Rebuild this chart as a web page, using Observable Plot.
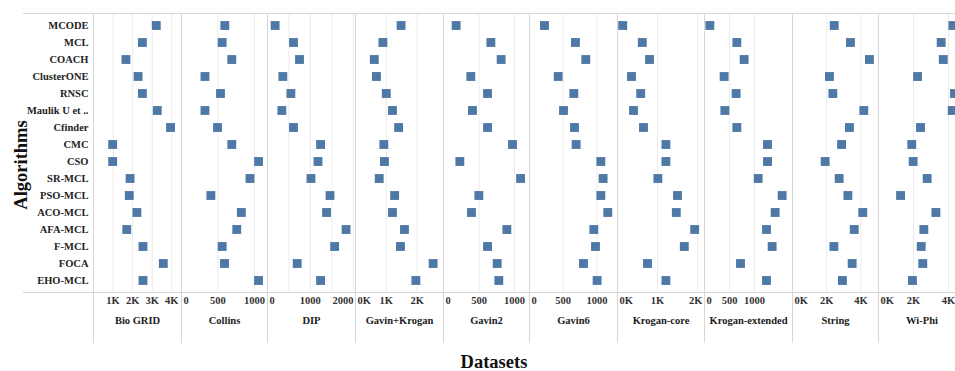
<!DOCTYPE html>
<html>
<head>
<meta charset="utf-8">
<script src="https://cdn.jsdelivr.net/npm/d3@7"></script>
<script src="https://cdn.jsdelivr.net/npm/@observablehq/plot@0.6"></script>
<style>
  body { margin: 0; background: #fff; }
  #chart { position: relative; width: 955px; height: 371px; overflow: hidden; background: #fff;
           font-family: "Liberation Serif", "Times New Roman", serif; font-weight: bold; color: #222; }
  .rule { position: absolute; background: #d6d6d6; }
  .title { position: absolute; font-size: 18.5px; white-space: nowrap; color: #111; }
</style>
</head>
<body>
<div id="chart"></div>
<script>
// Algorithms (rows, top to bottom)
const algorithms = ["MCODE", "MCL", "COACH", "ClusterONE", "RNSC", "Maulik U et ..", "Cfinder",
  "CMC", "CSO", "SR-MCL", "PSO-MCL", "ACO-MCL", "AFA-MCL", "F-MCL", "FOCA", "EHO-MCL"];

// Datasets (columns, left to right)
const datasets = ["Bio GRID", "Collins", "DIP", "Gavin+Krogan", "Gavin2", "Gavin6",
  "Krogan-core", "Krogan-extended", "String", "Wi-Phi"];

// Values per dataset, in the order of `algorithms`
const bioGrid        = [3210, 2500, 1660, 2280, 2500, 3260, 3940, 980, 980, 1870, 1830, 2220, 1700, 2530, 3570, 2530];
const collins        = [594, 558, 690, 322, 535, 322, 494, 690, 1057, 940, 403, 821, 758, 558, 590, 1057];
const dip            = [178, 607, 747, 358, 546, 335, 607, 1239, 1178, 1014, 1459, 1379, 1834, 1567, 693, 1239];
const gavinKrogan    = [1480, 890, 610, 680, 1000, 1200, 1400, 920, 940, 770, 1270, 1200, 1590, 1460, 2520, 1960];
const gavin2         = [178, 667, 812, 385, 620, 408, 620, 972, 230, 1085, 498, 394, 892, 620, 756, 779];
const gavin6         = [222, 681, 834, 425, 657, 504, 667, 691, 1057, 1091, 1057, 1160, 953, 978, 800, 1002];
const kroganCore     = [130, 620, 800, 350, 580, 400, 650, 1210, 1210, 1010, 1500, 1470, 1930, 1670, 750, 1210];
const kroganExtended = [107, 647, 793, 393, 633, 407, 647, 1260, 1260, 1073, 1553, 1413, 1240, 1353, 720, 1240];
const string         = [2440, 3390, 4500, 2160, 2360, 4170, 3330, 2870, 1910, 2730, 3240, 4110, 3610, 2420, 3490, 2920];
const wiPhi          = [4250, 3580, 3700, 2230, 4340, 4210, 2400, 1900, 1980, 2780, 1260, 3280, 2590, 2440, 2530, 1940];

// Axis extent and labelled ticks per dataset
const domainMax = [4500, 1180, 2054, 2857, 1211, 1304, 2175, 1760, 5030, 4970];
const tickValues = [
  [1000, 2000, 3000, 4000], [0, 500, 1000], [0, 1000, 2000], [0, 1000, 2000], [0, 500, 1000],
  [0, 500, 1000], [0, 1000, 2000], [0, 500, 1000], [0, 2000, 4000], [0, 2000, 4000]
];
const gridValues = [
  [1000, 2000, 3000, 4000], [500, 1000], [500, 1000, 1500, 2000], [1000, 2000], [500, 1000],
  [500, 1000], [1000, 2000], [500, 1000], [2000, 4000], [2000, 4000]
];
// Datasets whose axis is written in thousands ("1K")
const thousandsAxis = ["Bio GRID", "Gavin+Krogan", "Krogan-core", "String", "Wi-Phi"];

const series = [bioGrid, collins, dip, gavinKrogan, gavin2, gavin6, kroganCore, kroganExtended, string, wiPhi];

// ---- layout ----
const chart = document.getElementById("chart");
const edges = [93, 181, 267, 355, 443, 529, 617, 704, 792, 878, 965];
const panelTop = 13, plotH = 279, svgH = 330;
const font = "'Liberation Serif', 'Times New Roman', serif";

function rule(x, y, w, h) {
  const d = document.createElement("div");
  d.className = "rule";
  Object.assign(d.style, {left: x + "px", top: y + "px", width: w + "px", height: h + "px"});
  chart.appendChild(d);
}

datasets.forEach((name, i) => {
  const first = i === 0;
  const w = edges[i + 1] - edges[i];
  const ml = first ? edges[0] : 0;
  const rows = algorithms.map((a, j) => ({algorithm: a, value: series[i][j]}));
  const fmt = thousandsAxis.includes(name) ? (v) => `${v / 1000}K` : (v) => `${v}`;

  // tick labels: keep edge labels inside the panel
  const labelMarks = tickValues[i].map((v) => {
    const text = fmt(v);
    const px = v / domainMax[i] * w;
    const half = text.length * 2.7;
    let anchor = "middle", dx = 0;
    if (px - half < 2) { anchor = "start"; dx = 2 - px; }
    else if (px + half > w - 2) { anchor = "end"; dx = w - 2 - px; }
    return Plot.text([v], {x: (d) => d, text: () => text, frameAnchor: "bottom", dy: 11,
      textAnchor: anchor, dx, fill: "#333", fontSize: 10.5});
  });

  const svg = Plot.plot({
    width: ml + w,
    height: svgH,
    marginLeft: ml,
    marginRight: 0,
    marginTop: 0,
    marginBottom: svgH - plotH,
    style: {fontFamily: font, fontSize: "10.5px", fontWeight: "bold", color: "#222",
            background: "transparent", overflow: "visible"},
    x: {domain: [0, domainMax[i]], axis: null},
    y: {domain: algorithms, axis: first ? "left" : null, tickSize: 0, tickPadding: 5, label: null},
    marks: [
      Plot.ruleX(gridValues[i], {stroke: "#ececec", strokeWidth: 1}),
      Plot.dot(rows, {x: "value", y: "algorithm", symbol: "square", r: 5, fill: "#4e79a7"}),
      ...labelMarks,
      Plot.text([name], {frameAnchor: "bottom", dy: 31, fill: "#222", fontSize: 10.5})
    ]
  });
  Object.assign(svg.style, {position: "absolute", left: (edges[i] - ml) + "px", top: panelTop + "px"});
  chart.appendChild(svg);
});

// table rules
rule(23, panelTop, 955 - 23, 1);
rule(23, panelTop + plotH, 955 - 23, 1);
edges.forEach((x) => rule(x, panelTop, 1, svgH));

// axis titles
const yTitle = document.createElement("div");
yTitle.className = "title";
yTitle.textContent = "Algorithms";
Object.assign(yTitle.style, {left: "21px", top: "165px", transform: "translate(-50%, -50%) rotate(-90deg)"});
chart.appendChild(yTitle);

const xTitle = document.createElement("div");
xTitle.className = "title";
xTitle.textContent = "Datasets";
Object.assign(xTitle.style, {left: "494px", top: "362px", transform: "translate(-50%, -50%)"});
chart.appendChild(xTitle);
</script>
</body>
</html>
